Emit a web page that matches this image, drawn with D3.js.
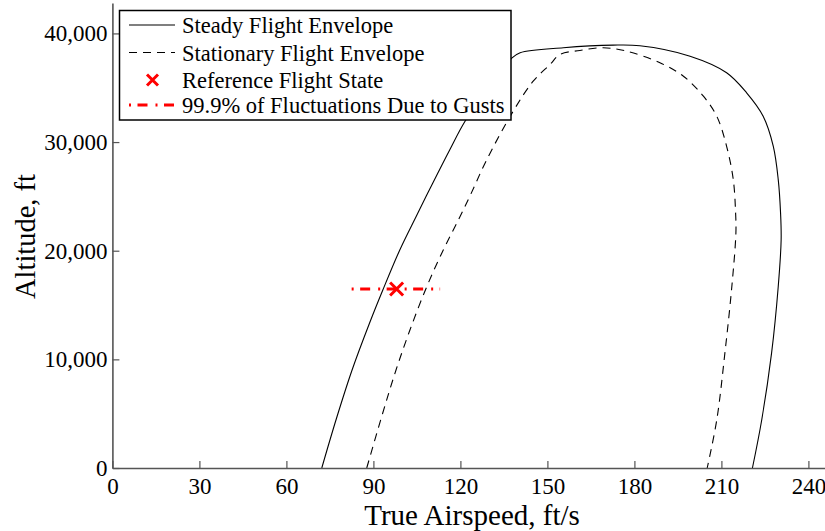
<!DOCTYPE html>
<html lang="en">
<head>
<meta charset="UTF-8" />
<title>Flight Envelope</title>
<script src="https://cdn.jsdelivr.net/npm/d3@7"></script>
<style>
  body { margin: 0; background: #fff; }
  text { font-family: "Liberation Serif", "Times New Roman", serif; fill: #000; }
</style>
</head>
<body>
<div id="chart"></div>
<script>
// steady flight envelope (solid)
const steadySpeed = [72.2, 77.2, 82.65, 88.65, 93.25, 99.1, 104.7, 110.45, 116.3, 121.6, 129.5, 137.8, 140.6, 155.5, 172.7, 181.9, 199.2, 211.8, 218.7, 224.4, 227.9, 229.6, 230.4, 230.6, 229.6, 227.3, 223.9, 220.7];
const steadyAlt   = [0, 4510, 9020, 13320, 16380, 20070, 23130, 26210, 29270, 31920, 34900, 37750, 38220, 38680, 38920, 38860, 37900, 36380, 34530, 32380, 29610, 26540, 23470, 21010, 16710, 10570, 4420, 0];
// stationary flight envelope (dashed)
const statSpeed = [87.7, 93.2, 97.8, 102.6, 108.4, 114.1, 119.3, 123.4, 129.1, 138.2, 145.1, 150.9, 154.3, 161.2, 169.3, 177.3, 188.8, 196.9, 203.8, 208.4, 211.8, 214.1, 214.9, 215.0, 213.6, 211.2, 208.4, 205.1];
const statAlt   = [0, 5040, 9020, 12700, 16690, 20070, 22830, 25100, 28390, 32840, 35600, 37140, 38060, 38430, 38680, 38370, 37300, 36060, 34220, 32380, 29610, 26540, 23470, 21630, 16710, 10570, 4420, 0];
// reference state and gust range
const refSpeed = 98.0;
const refAlt = 16470;
const gustSpeeds = [82.5, 113.0];

const xTicks = [0, 30, 60, 90, 120, 150, 180, 210, 240];
const yTicks = [0, 10000, 20000, 30000, 40000];
const legendLabels = ["Steady Flight Envelope", "Stationary Flight Envelope", "Reference Flight State", "99.9% of Fluctuations Due to Gusts"];

const width = 825, height = 531;
const svg = d3.select("#chart").append("svg")
  .attr("width", width).attr("height", height);

const x = d3.scaleLinear().domain([0, 250]).range([112.4, 112.4 + 250 * 2.9]);
const y = d3.scaleLinear().domain([0, 42800]).range([468, 3]);

const line = d3.line()
  .x(d => x(d[0])).y(d => y(d[1]))
  .curve(d3.curveCatmullRom.alpha(0.5));

const steady = steadySpeed.map((s, i) => [s, steadyAlt[i]]);
const stat = statSpeed.map((s, i) => [s, statAlt[i]]);

svg.append("path").datum(steady).attr("d", line)
  .attr("fill", "none").attr("stroke", "#000").attr("stroke-width", 1.1);
svg.append("path").datum(stat).attr("d", line)
  .attr("fill", "none").attr("stroke", "#000").attr("stroke-width", 1.1)
  .attr("stroke-dasharray", "8,6");

const redDash = "2,6.5,10,8";

// gust range
svg.append("line")
  .attr("x1", x(gustSpeeds[0])).attr("x2", x(gustSpeeds[1]))
  .attr("y1", y(refAlt)).attr("y2", y(refAlt))
  .attr("stroke", "#ff0000").attr("stroke-width", 3)
  .attr("stroke-dasharray", redDash);

// reference marker
function cross(g, cx, cy, r) {
  g.append("path")
    .attr("d", `M${cx - r},${cy - r}L${cx + r},${cy + r}M${cx - r},${cy + r}L${cx + r},${cy - r}`)
    .attr("stroke", "#ff0000").attr("stroke-width", 3).attr("fill", "none");
}
cross(svg, x(refSpeed), y(refAlt), 6.5);

// axes
const axisColor = "#555";
const xAxis = svg.append("g").attr("transform", `translate(0,${y(0)})`)
  .call(d3.axisBottom(x).tickValues(xTicks).tickSizeInner(-7).tickSizeOuter(0).tickPadding(10));
const yAxis = svg.append("g").attr("transform", `translate(${x(0)},0)`)
  .call(d3.axisLeft(y).tickValues(yTicks).tickSizeInner(-7).tickSizeOuter(0).tickPadding(5)
    .tickFormat(d3.format(",")));
[xAxis, yAxis].forEach(a => {
  a.select(".domain").attr("stroke", axisColor).attr("stroke-width", 1.6);
  a.selectAll(".tick line").attr("stroke", axisColor).attr("stroke-width", 1.2);
  a.selectAll(".tick text").style("font-family", "'Liberation Serif', serif")
    .style("font-size", "23px").attr("fill", "#000");
});

svg.append("text").attr("x", 472).attr("y", 525).attr("text-anchor", "middle")
  .style("font-size", "29px").text("True Airspeed, ft/s");
svg.append("text").attr("transform", "translate(35,236.5) rotate(-90)")
  .attr("text-anchor", "middle").style("font-size", "28.5px").text("Altitude, ft");

// legend
const lg = svg.append("g");
lg.append("rect").attr("x", 119.5).attr("y", 10.5).attr("width", 391.5).attr("height", 109.5)
  .attr("fill", "#fff").attr("stroke", "#000").attr("stroke-width", 1.5);
const rowsY = [25, 52.5, 80, 105];
legendLabels.forEach((t, i) => {
  const ry = rowsY[i];
  if (i === 0) {
    lg.append("line").attr("x1", 129).attr("x2", 175).attr("y1", ry).attr("y2", ry)
      .attr("stroke", "#000").attr("stroke-width", 1.1);
  } else if (i === 1) {
    lg.append("line").attr("x1", 129).attr("x2", 175).attr("y1", ry).attr("y2", ry)
      .attr("stroke", "#000").attr("stroke-width", 1.1).attr("stroke-dasharray", "8,6");
  } else if (i === 2) {
    cross(lg, 152.5, ry, 5.5);
  } else {
    lg.append("line").attr("x1", 129).attr("x2", 175).attr("y1", ry).attr("y2", ry)
      .attr("stroke", "#ff0000").attr("stroke-width", 3).attr("stroke-dasharray", redDash);
  }
  lg.append("text").attr("x", 182).attr("y", ry + 8).style("font-size", "22.5px").text(t);
});
</script>
</body>
</html>
